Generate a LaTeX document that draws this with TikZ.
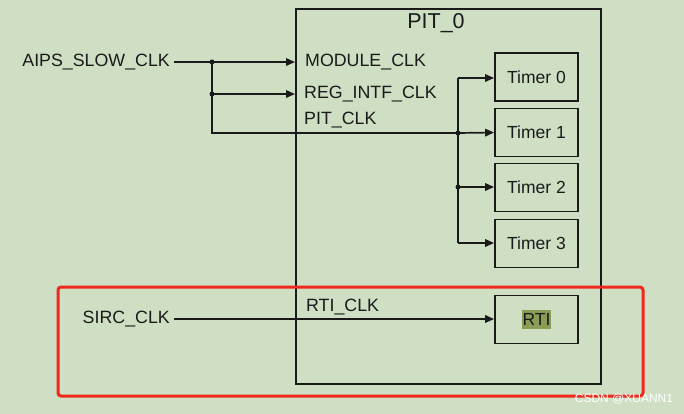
\documentclass[tikz,border=0pt]{standalone}
\usepackage{fontspec}
\setmainfont{Liberation Sans}
\usetikzlibrary{arrows.meta}
\definecolor{bg}{HTML}{CEDFC4}
\definecolor{ink}{HTML}{1A1A1A}
\definecolor{redbox}{HTML}{F0281E}
\definecolor{rtihl}{HTML}{8A9C56}
\tikzset{
  lbl/.style={inner sep=0pt, text=ink, font=\fontsize{17.8}{20}\selectfont},
  tbox/.style={draw=ink, line width=1.8pt, minimum width=83pt, minimum height=48pt, inner sep=0pt, text=ink, font=\fontsize{17.5}{20}\selectfont},
  wire/.style={draw=ink, line width=1.7pt},
  arr/.style={wire, -{Triangle[length=9pt,width=7.5pt]}},
  dot/.style={circle, fill=ink, inner sep=0pt, minimum size=5pt}
}
\begin{document}
\begin{tikzpicture}[x=1pt,y=-1pt]
\useasboundingbox[fill=bg] (0,0) rectangle (684,414);
% PIT_0 block
\node[draw=ink, line width=1.8pt, minimum width=305pt, minimum height=375pt, inner sep=0pt, anchor=north west] (pit) at (295,8) {};
\node[lbl, font=\fontsize{21.5}{24}\selectfont] (pittitle) at (436,23) {PIT\_0};
% timers
\node[tbox] (t0) at (536.5,77) {Timer 0};
\node[tbox] (t1) at (536.5,132.5) {Timer 1};
\node[tbox] (t2) at (536.5,187.5) {Timer 2};
\node[tbox] (t3) at (536.5,243.5) {Timer 3};
\node[tbox] (rti) at (536.5,319.5) {\colorbox{rtihl}{\hspace{-2pt}RTI\hspace{-2pt}}};
% inputs
\node[lbl, anchor=east] (aips) at (170,62) {AIPS\_SLOW\_CLK};
\node[lbl, anchor=east] (sirc) at (170,319) {SIRC\_CLK};
% internal labels
\node[lbl, anchor=west] (modl) at (305,62) {MODULE\_CLK};
\node[lbl, anchor=west] (regl) at (304,94) {REG\_INTF\_CLK};
\node[lbl, anchor=west] (pitl) at (304,120) {PIT\_CLK};
\node[lbl, anchor=west] (rtil) at (306,307) {RTI\_CLK};
% coordinates
\coordinate (modin) at (295,62);
\coordinate (regin) at (295,94);
\coordinate (ja) at (212,62);
\coordinate (jb) at (212,94);
\coordinate (jc) at (212,133);
\coordinate (bt) at (458,78);
\coordinate (b1) at (458,133);
\coordinate (b2) at (458,187);
\coordinate (b3) at (458,243);
% connectors
\draw[arr] ([xshift=4pt]aips.east) -- (modin);
\draw[arr] (jb) -- (regin);
\draw[wire] (ja) -- (jc) -- (b1);
\draw[arr] (b1) -- (t1.west);
\draw[wire] (bt) -- (b3);
\draw[arr] (bt) -- (t0.west |- bt);
\draw[arr] (b2) -- (t2.west |- b2);
\draw[arr] (b3) -- (t3.west |- b3);
\draw[arr] ([xshift=4pt]sirc.east) -- (rti.west |- sirc.east);
\node[dot] at (ja) {};
\node[dot] at (jb) {};
\node[dot] at (b1) {};
\node[dot] at (b2) {};
% red highlight frame
\draw[redbox, line width=3pt, rounded corners=3pt] (58,287) rectangle (643,396);
% watermark
\node[inner sep=0pt, text=white, font=\fontsize{12}{14}\selectfont] (wm) at (624,399) {CSDN @XUANN1};
\end{tikzpicture}
\end{document}
